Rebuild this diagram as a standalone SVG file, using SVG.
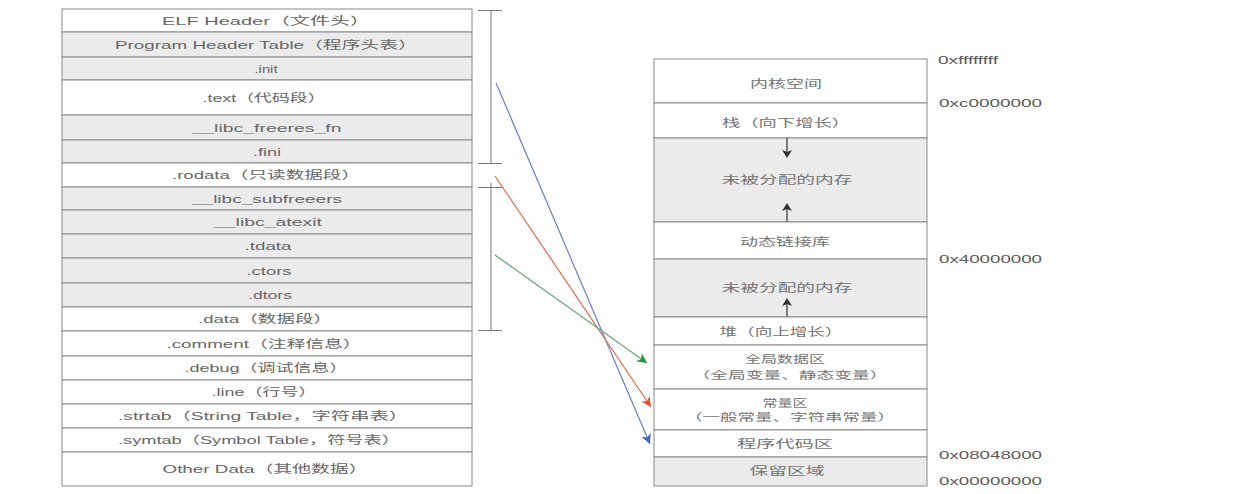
<svg xmlns="http://www.w3.org/2000/svg" width="1245" height="494" viewBox="0 0 1245 494">
  <style>
    .cell { stroke: #8a8a8a; stroke-width: 1; }
    .w { fill: #ffffff; }
    .g { fill: #ebebeb; }
    .lt { font-family: "Liberation Sans", Arial, "Noto Sans CJK SC", sans-serif; font-size: 11px; fill: #666666; text-anchor: middle; dominant-baseline: central; }
    .rt { font-family: "Noto Sans CJK SC", sans-serif; font-size: 11px; fill: #747474; text-anchor: middle; dominant-baseline: central; }
    .rt2 { font-size: 10px; }
    .addr { font-family: "Liberation Sans", Arial, sans-serif; font-size: 11px; fill: #5a5a5a; dominant-baseline: central; }
    .brk { stroke: #777777; stroke-width: 1; fill: none; }
    .grow { stroke: #333333; stroke-width: 1.2; }
    .growhead { fill: #333333; }
  </style>
  <defs>
    <marker id="ah-blue" markerUnits="userSpaceOnUse" markerWidth="12" markerHeight="10" refX="10" refY="5" orient="auto">
      <path d="M0,0 L10,5 L0,10 L3,5 Z" fill="#3d63c4"/>
    </marker>
    <marker id="ah-red" markerUnits="userSpaceOnUse" markerWidth="12" markerHeight="10" refX="10" refY="5" orient="auto">
      <path d="M0,0 L10,5 L0,10 L3,5 Z" fill="#e0502a"/>
    </marker>
    <marker id="ah-green" markerUnits="userSpaceOnUse" markerWidth="12" markerHeight="10" refX="10" refY="5" orient="auto">
      <path d="M0,0 L10,5 L0,10 L3,5 Z" fill="#1e9a32"/>
    </marker>
  </defs>

  <rect width="1245" height="494" fill="#ffffff"/>

  <!-- ELF file layout (sections) -->
  <g id="elf-sections">
    <g id="sec-elf-header"><rect class="cell w" x="62" y="9" width="410" height="23"/><text class="lt" x="266" y="20.5" textLength="208" lengthAdjust="spacingAndGlyphs">ELF  Header（文件头）</text></g>
    <g id="sec-pht"><rect class="cell g" x="62" y="32" width="410" height="25"/><text class="lt" x="266" y="44.5" textLength="302" lengthAdjust="spacingAndGlyphs">Program Header Table（程序头表）</text></g>
    <g id="sec-init"><rect class="cell g" x="62" y="57" width="410" height="23"/><text class="lt" x="266" y="68.5" textLength="23" lengthAdjust="spacingAndGlyphs">.init</text></g>
    <g id="sec-text"><rect class="cell w" x="62" y="80" width="410" height="35"/><text class="lt" x="264" y="98" textLength="123" lengthAdjust="spacingAndGlyphs">.text（代码段）</text></g>
    <g id="sec-freeres"><rect class="cell g" x="62" y="115" width="410" height="25"/><text class="lt" x="267" y="127.5" textLength="149" lengthAdjust="spacingAndGlyphs">__libc_freeres_fn</text></g>
    <g id="sec-fini"><rect class="cell g" x="62" y="140" width="410" height="23"/><text class="lt" x="267" y="151.5" textLength="28" lengthAdjust="spacingAndGlyphs">.fini</text></g>
    <g id="sec-rodata"><rect class="cell w" x="62" y="163" width="410" height="24"/><text class="lt" x="266" y="175" textLength="188" lengthAdjust="spacingAndGlyphs">.rodata（只读数据段）</text></g>
    <g id="sec-subfreeres"><rect class="cell g" x="62" y="187" width="410" height="23"/><text class="lt" x="267" y="198.5" textLength="150" lengthAdjust="spacingAndGlyphs">__libc_subfreeers</text></g>
    <g id="sec-atexit"><rect class="cell g" x="62" y="210" width="410" height="24"/><text class="lt" x="268" y="222" textLength="108" lengthAdjust="spacingAndGlyphs">__libc_atexit</text></g>
    <g id="sec-tdata"><rect class="cell g" x="62" y="234" width="410" height="24"/><text class="lt" x="268" y="246" textLength="47" lengthAdjust="spacingAndGlyphs">.tdata</text></g>
    <g id="sec-ctors"><rect class="cell g" x="62" y="258" width="410" height="25"/><text class="lt" x="269" y="270.5" textLength="45" lengthAdjust="spacingAndGlyphs">.ctors</text></g>
    <g id="sec-dtors"><rect class="cell g" x="62" y="283" width="410" height="24"/><text class="lt" x="270" y="295" textLength="44" lengthAdjust="spacingAndGlyphs">.dtors</text></g>
    <g id="sec-data"><rect class="cell w" x="62" y="307" width="410" height="24"/><text class="lt" x="265" y="319" textLength="134" lengthAdjust="spacingAndGlyphs">.data（数据段）</text></g>
    <g id="sec-comment"><rect class="cell w" x="62" y="331" width="410" height="25"/><text class="lt" x="264" y="343.5" textLength="195" lengthAdjust="spacingAndGlyphs">.comment（注释信息）</text></g>
    <g id="sec-debug"><rect class="cell w" x="62" y="356" width="410" height="24"/><text class="lt" x="266" y="368" textLength="163" lengthAdjust="spacingAndGlyphs">.debug（调试信息）</text></g>
    <g id="sec-line"><rect class="cell w" x="62" y="380" width="410" height="24"/><text class="lt" x="264" y="392" textLength="105" lengthAdjust="spacingAndGlyphs">.line（行号）</text></g>
    <g id="sec-strtab"><rect class="cell w" x="62" y="404" width="410" height="24"/><text class="lt" x="263" y="416" textLength="290" lengthAdjust="spacingAndGlyphs">.strtab（String Table，字符串表）</text></g>
    <g id="sec-symtab"><rect class="cell w" x="62" y="428" width="410" height="24"/><text class="lt" x="259" y="440" textLength="282" lengthAdjust="spacingAndGlyphs">.symtab（Symbol Table，符号表）</text></g>
    <g id="sec-other"><rect class="cell w" x="62" y="452" width="410" height="34"/><text class="lt" x="265" y="469" textLength="205" lengthAdjust="spacingAndGlyphs">Other Data（其他数据）</text></g>
  </g>

  <!-- brackets grouping the sections -->
  <g id="brackets">
    <path class="brk" d="M478,10.5 H502 M491,10.5 V163.5 M478,163.5 H502"/>
    <path class="brk" d="M478,187.5 H502 M491,183 V330.5 M478,330.5 H502"/>
  </g>

  <!-- process address space -->
  <g id="address-space">
    <g id="seg-kernel"><rect class="cell w" x="654" y="59" width="273" height="44"/><text class="rt" x="786" y="83" textLength="72" lengthAdjust="spacingAndGlyphs">内核空间</text></g>
    <g id="seg-stack"><rect class="cell w" x="654" y="103" width="273" height="35"/><text class="rt" x="786" y="122" textLength="128" lengthAdjust="spacingAndGlyphs">栈（向下增长）</text></g>
    <g id="seg-free1"><rect class="cell g" x="654" y="138" width="273" height="84"/><text class="rt" x="787" y="179" textLength="131" lengthAdjust="spacingAndGlyphs">未被分配的内存</text>
      <line class="grow" x1="787" y1="138" x2="787" y2="152"/><path class="growhead" d="M782,150 L787,158 L792,150 L787,152 Z"/>
      <line class="grow" x1="787" y1="208" x2="787" y2="222"/><path class="growhead" d="M782,211 L787,203 L792,211 L787,209 Z"/>
    </g>
    <g id="seg-shlib"><rect class="cell w" x="654" y="222" width="273" height="37"/><text class="rt" x="785" y="241" textLength="90" lengthAdjust="spacingAndGlyphs">动态链接库</text></g>
    <g id="seg-free2"><rect class="cell g" x="654" y="259" width="273" height="58"/><text class="rt" x="787" y="287" textLength="131" lengthAdjust="spacingAndGlyphs">未被分配的内存</text>
      <line class="grow" x1="787" y1="303" x2="787" y2="317"/><path class="growhead" d="M782,306 L787,298 L792,306 L787,304 Z"/>
    </g>
    <g id="seg-heap"><rect class="cell w" x="654" y="317" width="273" height="28"/><text class="rt" x="781" y="331" textLength="123" lengthAdjust="spacingAndGlyphs">堆（向上增长）</text></g>
    <g id="seg-global"><rect class="cell w" x="654" y="345" width="273" height="44"/><text class="rt rt2" x="785" y="358" textLength="80" lengthAdjust="spacingAndGlyphs">全局数据区</text><text class="rt rt2" x="790" y="374" textLength="195" lengthAdjust="spacingAndGlyphs">（全局变量、静态变量）</text></g>
    <g id="seg-const"><rect class="cell w" x="654" y="389" width="273" height="41"/><text class="rt rt2" x="785" y="402" textLength="45" lengthAdjust="spacingAndGlyphs">常量区</text><text class="rt rt2" x="790" y="416" textLength="210" lengthAdjust="spacingAndGlyphs">（一般常量、字符串常量）</text></g>
    <g id="seg-code"><rect class="cell w" x="654" y="430" width="273" height="27"/><text class="rt" x="785" y="443" textLength="96" lengthAdjust="spacingAndGlyphs">程序代码区</text></g>
    <g id="seg-reserved"><rect class="cell g" x="654" y="457" width="273" height="29"/><text class="rt" x="787" y="470" textLength="75" lengthAdjust="spacingAndGlyphs">保留区域</text></g>
  </g>

  <!-- address labels -->
  <g id="addresses">
    <text class="addr" x="938" y="60" textLength="60" lengthAdjust="spacingAndGlyphs">0xffffffff</text>
    <text class="addr" x="939" y="103" textLength="103" lengthAdjust="spacingAndGlyphs">0xc0000000</text>
    <text class="addr" x="939" y="259" textLength="103" lengthAdjust="spacingAndGlyphs">0x40000000</text>
    <text class="addr" x="939" y="455" textLength="103" lengthAdjust="spacingAndGlyphs">0x08048000</text>
    <text class="addr" x="939" y="481" textLength="103" lengthAdjust="spacingAndGlyphs">0x00000000</text>
  </g>

  <!-- section-to-segment mapping -->
  <g id="connectors" fill="none" stroke-width="1.2">
    <line x1="496" y1="83" x2="650" y2="444" stroke="#6b80c0" marker-end="url(#ah-blue)"/>
    <line x1="495" y1="176" x2="651" y2="407" stroke="#d8684a" marker-end="url(#ah-red)"/>
    <line x1="495" y1="255" x2="647" y2="363" stroke="#6aa47c" marker-end="url(#ah-green)"/>
  </g>
</svg>
